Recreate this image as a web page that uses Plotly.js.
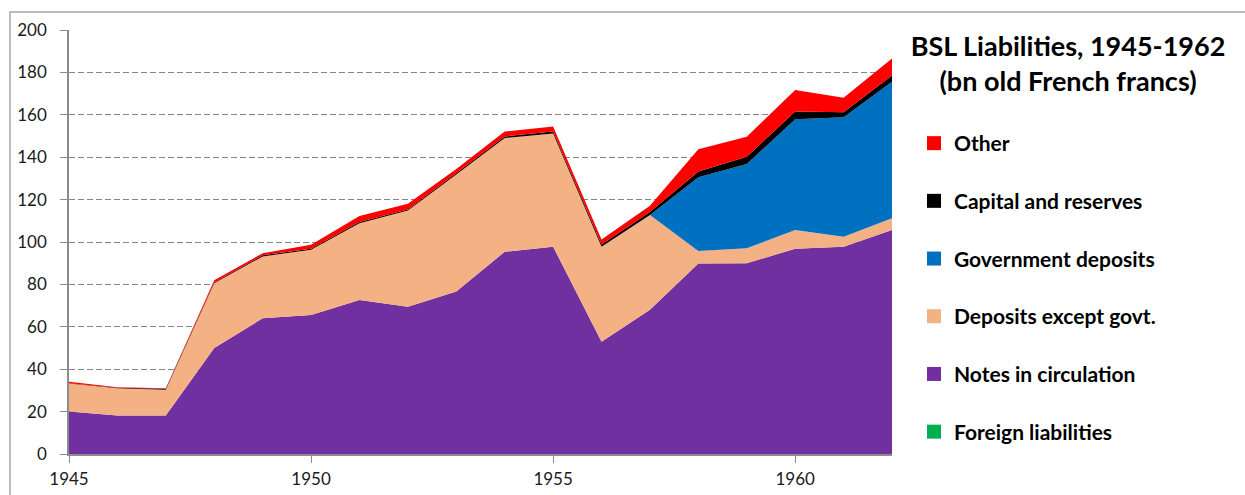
<!DOCTYPE html>
<html>
<head>
<meta charset="utf-8">
<script src="https://cdn.plot.ly/plotly-3.0.1.min.js"></script>
<style>
  html, body { margin: 0; padding: 0; background: #ffffff; }
  #chart { width: 1245px; height: 495px; }
</style>
</head>
<body>
<div id="chart"></div>
<script>
// ---- data (bn old French francs) ----
const years = [1945, 1946, 1947, 1948, 1949, 1950, 1951, 1952, 1953, 1954, 1955, 1956, 1957, 1958, 1959, 1960, 1961, 1962];
const foreignLiabilities = [0, 0, 0, 0, 0, 0, 0, 0, 0, 0, 0, 0, 0, 0, 0, 0, 0, 0];
const notesInCirculation = [20, 18.2, 18.2, 50, 64, 65.6, 72.6, 69.5, 76.6, 95.4, 97.8, 53, 68, 89.8, 90, 96.8, 97.8, 105.7];
const depositsExceptGovt = [13.3, 12.8, 12.1, 30.5, 29.2, 30.7, 36.2, 45.3, 55.2, 53.6, 53.4, 44.8, 44.7, 6, 7, 8.9, 4.7, 5.5];
const governmentDeposits = [0, 0, 0, 0, 0, 0, 0, 0, 0, 0, 0, 0, 0, 34.7, 39.8, 52.2, 56.3, 64.4];
const capitalAndReserves = [0.1, 0.2, 0.5, 0.4, 0.5, 0.5, 0.6, 0.5, 0.6, 0.8, 0.9, 1.0, 1.4, 2.7, 3.4, 3.6, 2.4, 2.9];
const other = [0.7, 0.3, 0.2, 1.1, 1.0, 1.9, 2.9, 2.8, 2.0, 2.3, 2.4, 2.4, 3.0, 10.5, 9.5, 10.2, 6.8, 8.1];

const seriesNames = ["Foreign liabilities", "Notes in circulation", "Deposits except govt.", "Government deposits", "Capital and reserves", "Other"];
const seriesColors = ["#00B050", "#7030A0", "#F4B183", "#0070C0", "#000000", "#FF0000"];
const seriesValues = [foreignLiabilities, notesInCirculation, depositsExceptGovt, governmentDeposits, capitalAndReserves, other];

const FONT = "Lato, 'Open Sans', 'DejaVu Sans', sans-serif";

const traces = [];
// stacked areas (bottom to top)
seriesValues.forEach((vals, i) => {
  traces.push({
    type: "scatter",
    x: years,
    y: vals,
    name: seriesNames[i],
    stackgroup: "liab",
    mode: "lines",
    line: { width: 0, color: seriesColors[i] },
    fillcolor: seriesColors[i],
    showlegend: false,
    hoverinfo: "x+y+name"
  });
});
// legend entries with square swatches (top to bottom)
for (let i = seriesNames.length - 1; i >= 0; i--) {
  traces.push({
    type: "scatter",
    x: [null],
    y: [null],
    name: seriesNames[i],
    mode: "markers",
    marker: { symbol: "square", size: 14, color: seriesColors[i] },
    legendgroup: "g" + i,
    showlegend: true,
    hoverinfo: "skip"
  });
}

const layout = {
  width: 1245,
  height: 495,
  paper_bgcolor: "#ffffff",
  plot_bgcolor: "rgba(0,0,0,0)",
  margin: { l: 69, r: 353, t: 30, b: 41, pad: 0 },
  font: { family: FONT, color: "#1a1a1a" },
  title: {
    text: "BSL Liabilities, 1945-1962<br>(bn old French francs)",
    font: { family: FONT, size: 27, weight: "bold", color: "#000000" },
    xref: "container",
    yref: "container",
    x: 1068 / 1245,
    xanchor: "center",
    y: 1 - 56 / 495,
    yanchor: "top"
  },
  xaxis: {
    range: [1945, 1962],
    tickmode: "linear",
    tick0: 1945,
    dtick: 5,
    ticks: "outside",
    ticklen: 7,
    tickcolor: "#8c8c8c",
    tickwidth: 1.3,
    showline: true,
    linecolor: "#8c8c8c",
    linewidth: 2,
    showgrid: false,
    zeroline: false,
    ticklabelstandoff: 2,
    tickfont: { family: FONT, size: 17, color: "#1a1a1a" },
    fixedrange: true
  },
  yaxis: {
    range: [0, 200],
    tickmode: "linear",
    tick0: 0,
    dtick: 20,
    ticks: "outside",
    ticklen: 7,
    tickcolor: "#8c8c8c",
    tickwidth: 1.3,
    showline: true,
    linecolor: "#8c8c8c",
    linewidth: 1.5,
    showgrid: true,
    gridcolor: "#858585",
    gridwidth: 1.3,
    griddash: "6px,3px",
    zeroline: false,
    ticklabelstandoff: 10,
    tickfont: { family: FONT, size: 17, color: "#1a1a1a" },
    fixedrange: true
  },
  legend: {
    x: (914 - 69) / 823,
    xanchor: "left",
    y: (454 - 123) / 424,
    yanchor: "top",
    traceorder: "grouped",
    tracegroupgap: 27.4,
    bgcolor: "rgba(0,0,0,0)",
    borderwidth: 0,
    font: { family: FONT, size: 21, weight: "bold", color: "#000000" }
  },
  shapes: [
    {
      type: "rect",
      xref: "paper",
      yref: "paper",
      x0: (10 - 69) / 823,
      x1: (1260 - 69) / 823,
      y0: (454 - 510) / 424,
      y1: (454 - 12) / 424,
      line: { color: "#a6a6a6", width: 1.5 },
      fillcolor: "rgba(0,0,0,0)",
      layer: "above"
    }
  ],
  showlegend: true,
  hovermode: "closest"
};

Plotly.newPlot("chart", traces, layout, { displayModeBar: false, responsive: false });
</script>
</body>
</html>
